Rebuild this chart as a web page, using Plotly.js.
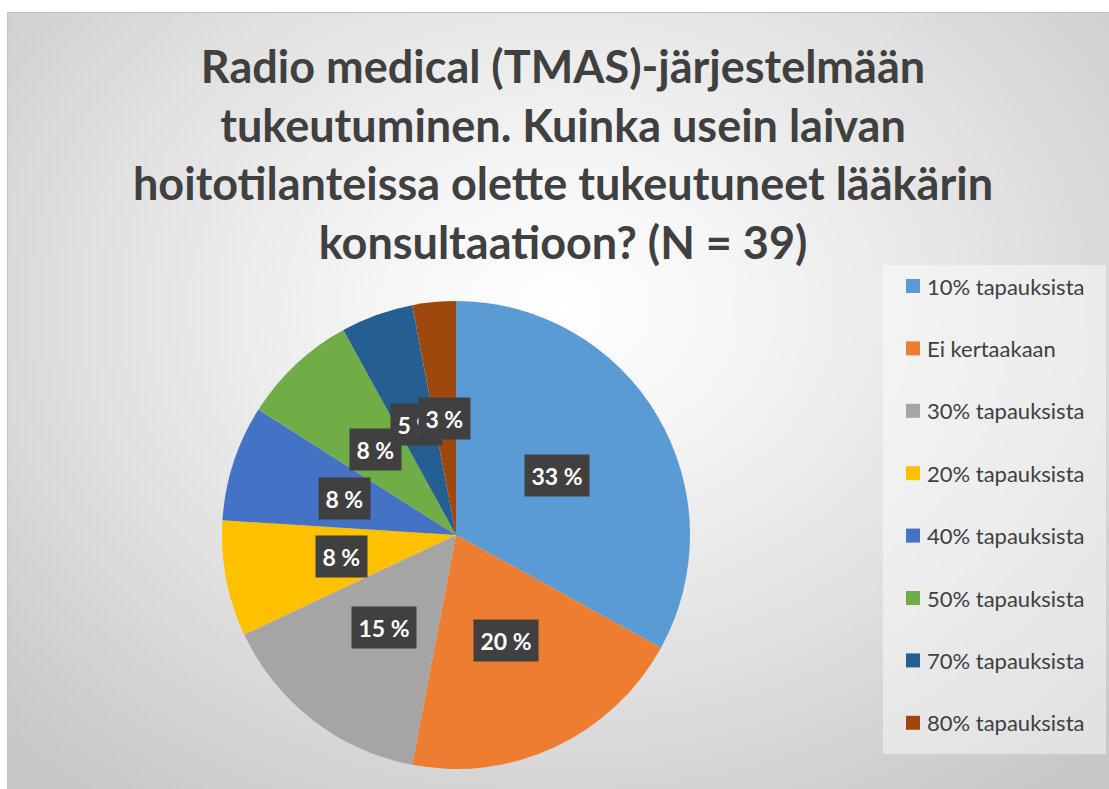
<!DOCTYPE html>
<html>
<head>
<meta charset="utf-8">
<script src="https://cdn.plot.ly/plotly-3.0.1.min.js"></script>
<style>
  html, body { margin: 0; padding: 0; background: #ffffff; }
  #bg {
    position: absolute; left: 7px; top: 12px; width: 1102px; height: 777px;
    border-top: 1px solid #bdbdbd; border-left: 1px solid #c4c4c4;
    background: radial-gradient(ellipse 70% 78% at 50% 38%, #ffffff 0%, #f6f6f6 22%, #e2e2e2 58%, #c8c8c8 100%);
  }
  #chart { position: absolute; left: 0; top: 0; width: 1109px; height: 789px; }
</style>
</head>
<body>
<div id="bg"></div>
<div id="chart"></div>
<script>
// ---- data ----
const categories = ["10% tapauksista", "Ei kertaakaan", "30% tapauksista", "20% tapauksista",
                    "40% tapauksista", "50% tapauksista", "70% tapauksista", "80% tapauksista"];
const percents = [33, 20, 15, 8, 8, 8, 5, 3];
const sliceColors = ["#5B9BD5", "#ED7D31", "#A5A5A5", "#FFC000", "#4472C4", "#70AD47", "#255E91", "#9E480E"];
const titleText = "Radio medical (TMAS)-järjestelmään<br>tukeutuminen. Kuinka usein laivan<br>hoitotilanteissa olette tukeutuneet lääkärin<br>konsultaatioon? (N = 39)";

// ---- layout geometry (pixels) ----
const W = 1109, H = 789;
const pieBox = {x0: 222, x1: 690, y0: 301, y1: 769};
const px = v => v / W;
const py = v => 1 - v / H;

const cx = (pieBox.x0 + pieBox.x1) / 2;
const cy = (pieBox.y0 + pieBox.y1) / 2;
const R = Math.min(pieBox.x1 - pieBox.x0, pieBox.y1 - pieBox.y0) / 2;

const total = percents.reduce((a, b) => a + b, 0);
const annotations = [];
let cum = 0;
percents.forEach((v, i) => {
  const f = (cum + v / 2) / total;
  cum += v;
  const th = 2 * Math.PI * f;
  const lx = cx + 0.5 * R * Math.sin(th);
  const ly = cy - 0.5 * R * Math.cos(th);
  annotations.push({
    xref: "paper", yref: "paper", x: px(lx), y: py(ly),
    xanchor: "center", yanchor: "middle", showarrow: false,
    text: "\u200a" + v + " %\u200a",
    font: {family: "Lato, 'Open Sans', sans-serif", size: 23, color: "#ffffff", weight: 700},
    bgcolor: "#404040", borderpad: 5, height: 31
  });
});

// manual legend (positions from index)
const legX = 906, legY0 = 286, legStep = 62.4, sq = 14;
const shapes = [{
  type: "rect", xref: "paper", yref: "paper", layer: "below",
  x0: px(883), x1: px(1106), y0: py(754), y1: py(265),
  fillcolor: "rgba(255,255,255,0.45)", line: {width: 0}
}];
categories.forEach((c, i) => {
  const yc = legY0 + i * legStep;
  shapes.push({
    type: "rect", xref: "paper", yref: "paper",
    x0: px(legX), x1: px(legX + sq), y0: py(yc + sq / 2), y1: py(yc - sq / 2),
    fillcolor: sliceColors[i], line: {width: 0}
  });
  annotations.push({
    xref: "paper", yref: "paper", x: px(legX + sq + 5), y: py(yc),
    xanchor: "left", yanchor: "middle", showarrow: false, text: c,
    font: {family: "Lato, 'Open Sans', sans-serif", size: 22, color: "#404040"}
  });
});

const trace = {
  type: "pie",
  labels: categories,
  values: percents,
  sort: false,
  direction: "clockwise",
  rotation: 0,
  marker: {colors: sliceColors, line: {width: 0}},
  textinfo: "none",
  hoverinfo: "label+percent",
  showlegend: false,
  domain: {x: [px(pieBox.x0), px(pieBox.x1)], y: [py(pieBox.y1), py(pieBox.y0)]}
};

const layout = {
  width: W, height: H,
  margin: {l: 0, r: 0, t: 0, b: 0},
  paper_bgcolor: "rgba(0,0,0,0)",
  plot_bgcolor: "rgba(0,0,0,0)",
  showlegend: false,
  title: {
    text: titleText,
    x: px(563), xanchor: "center",
    y: py(83), yanchor: "top", yref: "container",
    font: {family: "Lato, 'Open Sans', sans-serif", size: 45, color: "#404040", weight: 700}
  },
  annotations: annotations,
  shapes: shapes
};

Plotly.newPlot("chart", [trace], layout, {displayModeBar: false, staticPlot: true});
</script>
</body>
</html>
